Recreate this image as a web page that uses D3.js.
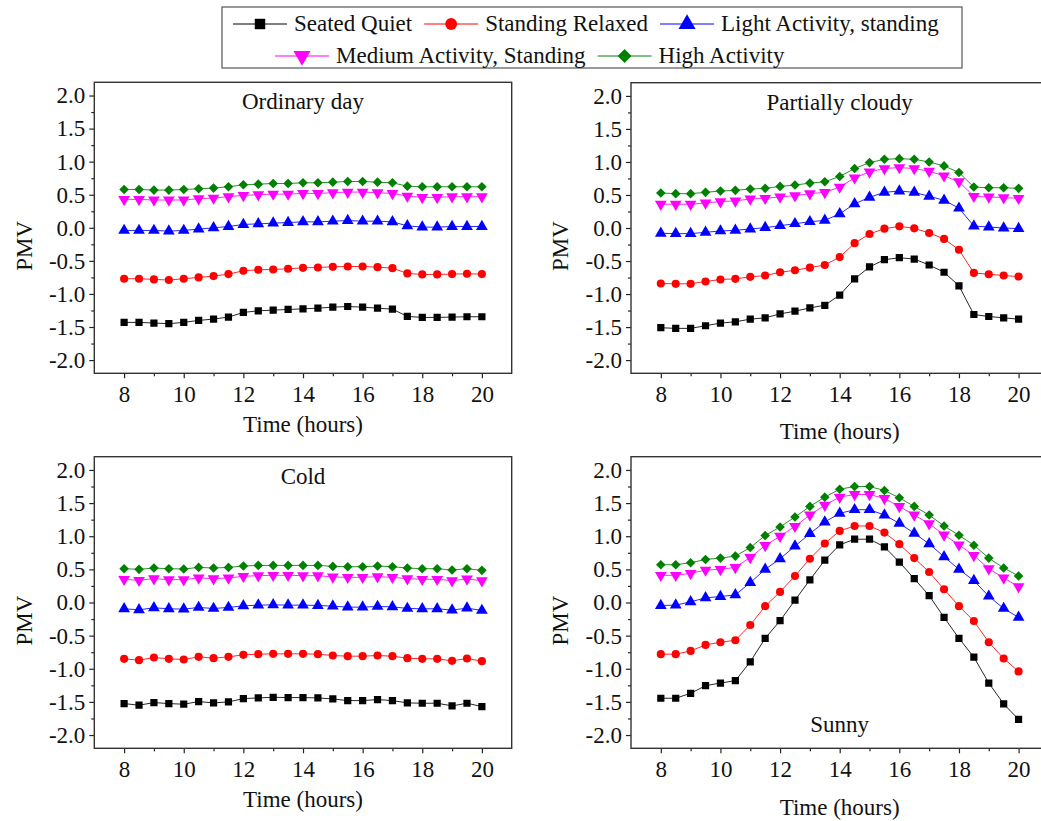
<!DOCTYPE html>
<html>
<head>
<meta charset="utf-8">
<script src="https://cdn.jsdelivr.net/npm/d3@7"></script>
<style>
  html, body { margin: 0; padding: 0; background: #fff; }
  svg { display: block; font-family: "Liberation Serif", "Times New Roman", serif; }
</style>
</head>
<body>
<svg id="chart" width="1041" height="821"></svg>
<script>
// ---------- data ----------
const hours = [8, 8.5, 9, 9.5, 10, 10.5, 11, 11.5, 12, 12.5, 13, 13.5, 14, 14.5, 15, 15.5, 16, 16.5, 17, 17.5, 18, 18.5, 19, 19.5, 20];

const seriesNames = ["Seated Quiet", "Standing Relaxed", "Light Activity, standing", "Medium Activity, Standing", "High Activity"];
const seriesColors = ["#000000", "#ff0000", "#0000ff", "#ff00ff", "#008000"];
const seriesSymbols = ["square", "circle", "triangleUp", "triangleDown", "diamond"];

const panelTitles = ["Ordinary day", "Partially cloudy", "Cold", "Sunny"];

const yTicks = [-2.0, -1.5, -1.0, -0.5, 0.0, 0.5, 1.0, 1.5, 2.0];
const yMinorTicks = [-1.75, -1.25, -0.75, -0.25, 0.25, 0.75, 1.25, 1.75];
const xTicks = [8, 10, 12, 14, 16, 18, 20];
const xMinorTicks = [9, 11, 13, 15, 17, 19];

// Ordinary day
const ordinarySeated   = [-1.43,-1.43,-1.44,-1.45,-1.43,-1.40,-1.38,-1.35,-1.28,-1.255,-1.245,-1.235,-1.225,-1.215,-1.20,-1.19,-1.20,-1.215,-1.23,-1.34,-1.355,-1.355,-1.35,-1.345,-1.345];
const ordinaryStanding = [-0.77,-0.77,-0.78,-0.79,-0.77,-0.75,-0.73,-0.70,-0.65,-0.635,-0.63,-0.62,-0.605,-0.60,-0.59,-0.585,-0.585,-0.595,-0.61,-0.69,-0.705,-0.705,-0.70,-0.695,-0.70];
const ordinaryLight    = [-0.04,-0.04,-0.04,-0.05,-0.04,-0.02,0.00,0.02,0.05,0.06,0.07,0.08,0.09,0.09,0.10,0.11,0.10,0.10,0.09,0.03,0.01,0.01,0.02,0.02,0.02];
const ordinaryMedium   = [0.43,0.43,0.42,0.42,0.42,0.44,0.45,0.47,0.49,0.50,0.51,0.51,0.52,0.52,0.53,0.54,0.54,0.53,0.52,0.48,0.46,0.46,0.47,0.47,0.47];
const ordinaryHigh     = [0.58,0.58,0.57,0.57,0.58,0.59,0.60,0.62,0.65,0.66,0.67,0.67,0.68,0.68,0.69,0.70,0.70,0.69,0.68,0.63,0.62,0.62,0.62,0.62,0.62];

// Partially cloudy
const cloudySeated   = [-1.51,-1.52,-1.52,-1.48,-1.44,-1.42,-1.38,-1.36,-1.30,-1.26,-1.21,-1.17,-1.015,-0.77,-0.59,-0.48,-0.45,-0.47,-0.56,-0.67,-0.875,-1.31,-1.34,-1.36,-1.38];
const cloudyStanding = [-0.84,-0.845,-0.845,-0.81,-0.78,-0.77,-0.74,-0.72,-0.67,-0.64,-0.60,-0.56,-0.44,-0.23,-0.09,-0.01,0.025,-0.005,-0.075,-0.165,-0.33,-0.68,-0.70,-0.72,-0.735];
const cloudyLight    = [-0.08,-0.085,-0.085,-0.065,-0.045,-0.035,-0.015,0.005,0.035,0.065,0.095,0.115,0.215,0.365,0.465,0.54,0.56,0.54,0.48,0.42,0.30,0.03,0.015,0.00,-0.01];
const cloudyMedium   = [0.36,0.36,0.36,0.38,0.40,0.41,0.44,0.45,0.47,0.49,0.52,0.54,0.62,0.76,0.85,0.90,0.915,0.90,0.86,0.79,0.70,0.48,0.47,0.46,0.45];
const cloudyHigh     = [0.53,0.52,0.52,0.54,0.56,0.57,0.59,0.60,0.63,0.65,0.68,0.70,0.78,0.90,0.99,1.04,1.05,1.04,1.00,0.94,0.84,0.62,0.61,0.61,0.60];

// Cold
const coldSeated   = [-1.525,-1.55,-1.51,-1.525,-1.535,-1.495,-1.515,-1.50,-1.45,-1.44,-1.43,-1.435,-1.435,-1.44,-1.455,-1.48,-1.48,-1.465,-1.48,-1.515,-1.52,-1.52,-1.56,-1.52,-1.57];
const coldStanding = [-0.85,-0.87,-0.83,-0.85,-0.86,-0.82,-0.84,-0.82,-0.79,-0.78,-0.775,-0.775,-0.775,-0.78,-0.80,-0.81,-0.81,-0.80,-0.81,-0.84,-0.85,-0.85,-0.88,-0.845,-0.885];
const coldLight    = [-0.095,-0.11,-0.08,-0.095,-0.10,-0.075,-0.09,-0.075,-0.05,-0.04,-0.035,-0.04,-0.04,-0.045,-0.055,-0.07,-0.07,-0.06,-0.065,-0.09,-0.095,-0.095,-0.115,-0.085,-0.12];
const coldMedium   = [0.35,0.335,0.36,0.345,0.345,0.37,0.36,0.37,0.395,0.405,0.41,0.41,0.405,0.405,0.385,0.38,0.38,0.39,0.38,0.36,0.35,0.35,0.33,0.355,0.33];
const coldHigh     = [0.51,0.50,0.52,0.51,0.505,0.53,0.52,0.53,0.55,0.56,0.56,0.56,0.56,0.56,0.545,0.54,0.54,0.55,0.54,0.52,0.51,0.51,0.49,0.51,0.485];

// Sunny
const sunnySeated   = [-1.445,-1.445,-1.37,-1.255,-1.215,-1.18,-0.895,-0.54,-0.275,0.035,0.34,0.64,0.87,0.955,0.955,0.84,0.61,0.36,0.105,-0.225,-0.54,-0.825,-1.215,-1.53,-1.765];
const sunnyStanding = [-0.78,-0.78,-0.73,-0.64,-0.60,-0.57,-0.34,-0.055,0.16,0.40,0.66,0.89,1.08,1.155,1.155,1.055,0.88,0.67,0.46,0.20,-0.055,-0.28,-0.60,-0.845,-1.04];
const sunnyLight    = [-0.045,-0.04,0.01,0.07,0.09,0.115,0.30,0.50,0.66,0.85,1.04,1.215,1.345,1.40,1.40,1.32,1.195,1.045,0.885,0.69,0.50,0.33,0.095,-0.09,-0.225];
const sunnyMedium   = [0.41,0.41,0.44,0.49,0.50,0.53,0.68,0.86,1.00,1.15,1.32,1.47,1.59,1.63,1.63,1.57,1.45,1.32,1.19,1.02,0.87,0.71,0.51,0.37,0.24];
const sunnyHigh     = [0.57,0.57,0.60,0.65,0.67,0.70,0.83,1.01,1.14,1.29,1.45,1.59,1.71,1.75,1.75,1.69,1.58,1.45,1.32,1.155,1.015,0.865,0.67,0.52,0.40];

const panelData = [
  [ordinarySeated, ordinaryStanding, ordinaryLight, ordinaryMedium, ordinaryHigh],
  [cloudySeated, cloudyStanding, cloudyLight, cloudyMedium, cloudyHigh],
  [coldSeated, coldStanding, coldLight, coldMedium, coldHigh],
  [sunnySeated, sunnyStanding, sunnyLight, sunnyMedium, sunnyHigh]
];

// ---------- layout ----------
const svg = d3.select("#chart");
const FONT = 23;
const TICKFONT = 23;

const panelBoxes = [
  {x0: 94.3, x1: 511.7, y0: 82.3, y1: 373.3, titlePos: "top", xlabOff: 59, ylabX: 32},
  {x0: 631,  x1: 1048.4, y0: 82.7, y1: 373.3, titlePos: "top", xlabOff: 66, ylabX: 568},
  {x0: 94.3, x1: 511.7, y0: 456.7, y1: 748.3, titlePos: "top", xlabOff: 59, ylabX: 32},
  {x0: 631,  x1: 1048.4, y0: 456.7, y1: 748.3, titlePos: "bottom", xlabOff: 67, ylabX: 568}
];

function symbolPath(kind, big) {
  const k = big ? 2.1 : 1;
  switch (kind) {
    case "square": return d3.symbol(d3.symbolSquare, 52 * k)();
    case "circle": return d3.symbol(d3.symbolCircle, 52 * k)();
    case "triangleUp": return d3.symbol(d3.symbolTriangle, 60 * k)();
    case "triangleDown": return d3.symbol(d3.symbolTriangle, 60 * k)();
    case "diamond": return d3.symbol(d3.symbolSquare, 46 * k)();
  }
}
function symbolRotate(kind) {
  if (kind === "triangleDown") return " rotate(180)";
  if (kind === "diamond") return " rotate(45)";
  return "";
}
const fmt = v => v.toFixed(1);

panelBoxes.forEach((b, pi) => {
  const x = d3.scaleLinear().domain([7, 21]).range([b.x0, b.x1]);
  const y = d3.scaleLinear().domain([-2.2, 2.2]).range([b.y1, b.y0]);
  const g = svg.append("g");

  const clipId = "clip" + pi;
  svg.append("clipPath").attr("id", clipId).append("rect")
    .attr("x", b.x0).attr("y", b.y0).attr("width", b.x1 - b.x0).attr("height", b.y1 - b.y0);

  const yAx = g.append("g").attr("transform", `translate(${b.x0},0)`)
    .call(d3.axisLeft(y).tickValues(yTicks).tickFormat(fmt).tickSize(5).tickPadding(4));
  const yAxMinor = g.append("g").attr("transform", `translate(${b.x0},0)`)
    .call(d3.axisLeft(y).tickValues(yMinorTicks).tickFormat("").tickSize(3));
  const xAx = g.append("g").attr("transform", `translate(0,${b.y1})`)
    .call(d3.axisBottom(x).tickValues(xTicks).tickFormat(d3.format("d")).tickSize(5).tickPadding(7));
  const xAxMinor = g.append("g").attr("transform", `translate(0,${b.y1})`)
    .call(d3.axisBottom(x).tickValues(xMinorTicks).tickFormat("").tickSize(3));

  [yAx, yAxMinor, xAx, xAxMinor].forEach(a => {
    a.select(".domain").remove();
    a.selectAll("line").attr("stroke", "#222").attr("stroke-width", 1.2);
    a.selectAll("text").attr("font-size", TICKFONT).attr("fill", "#111")
      .attr("font-family", '"Liberation Serif", "Times New Roman", serif');
  });

  g.append("rect").attr("x", b.x0).attr("y", b.y0)
    .attr("width", b.x1 - b.x0).attr("height", b.y1 - b.y0)
    .attr("fill", "none").attr("stroke", "#333").attr("stroke-width", 1.4);

  const dg = g.append("g").attr("clip-path", `url(#${clipId})`);
  panelData[pi].forEach((vals, si) => {
    const pts = hours.map((h, i) => [h, vals[i]]);
    dg.append("path").datum(pts)
      .attr("fill", "none").attr("stroke", seriesColors[si]).attr("stroke-width", 1)
      .attr("stroke-opacity", 0.85)
      .attr("d", d3.line().x(d => x(d[0])).y(d => y(d[1])));
    dg.selectAll(null).data(pts).enter().append("path")
      .attr("d", symbolPath(seriesSymbols[si], false))
      .attr("transform", d => `translate(${x(d[0])},${y(d[1])})${symbolRotate(seriesSymbols[si])}`)
      .attr("fill", seriesColors[si]);
  });

  const cx = (b.x0 + b.x1) / 2;
  g.append("text").attr("x", cx)
    .attr("y", b.titlePos === "top" ? b.y0 + 27 : b.y1 - 16)
    .attr("text-anchor", "middle").attr("font-size", FONT).attr("fill", "#111")
    .text(panelTitles[pi]);

  g.append("text").attr("x", cx).attr("y", b.y1 + b.xlabOff)
    .attr("text-anchor", "middle").attr("font-size", FONT).attr("fill", "#111")
    .text("Time (hours)");
  const ymid = (b.y0 + b.y1) / 2 + 18;
  g.append("text").attr("transform", `translate(${b.ylabX},${ymid}) rotate(-90)`)
    .attr("text-anchor", "middle").attr("font-size", FONT).attr("fill", "#111")
    .text("PMV");
});

// ---------- legend ----------
const legend = svg.append("g");
legend.append("rect").attr("x", 222).attr("y", 7).attr("width", 740).attr("height", 61)
  .attr("fill", "#fff").attr("stroke", "#555").attr("stroke-width", 1.2);

const legendRows = [
  {items: [0, 1, 2], x: 233, y: 24, base: 31},
  {items: [3, 4], x: 275, y: 56, base: 63}
];
legendRows.forEach(row => {
  let cx = row.x;
  row.items.forEach(si => {
    legend.append("line").attr("x1", cx).attr("x2", cx + 54).attr("y1", row.y).attr("y2", row.y)
      .attr("stroke", seriesColors[si]).attr("stroke-width", 1);
    legend.append("path").attr("d", symbolPath(seriesSymbols[si], true))
      .attr("transform", `translate(${cx + 27},${row.y})${symbolRotate(seriesSymbols[si])}`)
      .attr("fill", seriesColors[si]);
    const t = legend.append("text").attr("x", cx + 61).attr("y", row.base)
      .attr("font-size", FONT).attr("fill", "#111").text(seriesNames[si]);
    cx = cx + 61 + t.node().getComputedTextLength() + 12;
  });
});
</script>
</body>
</html>
